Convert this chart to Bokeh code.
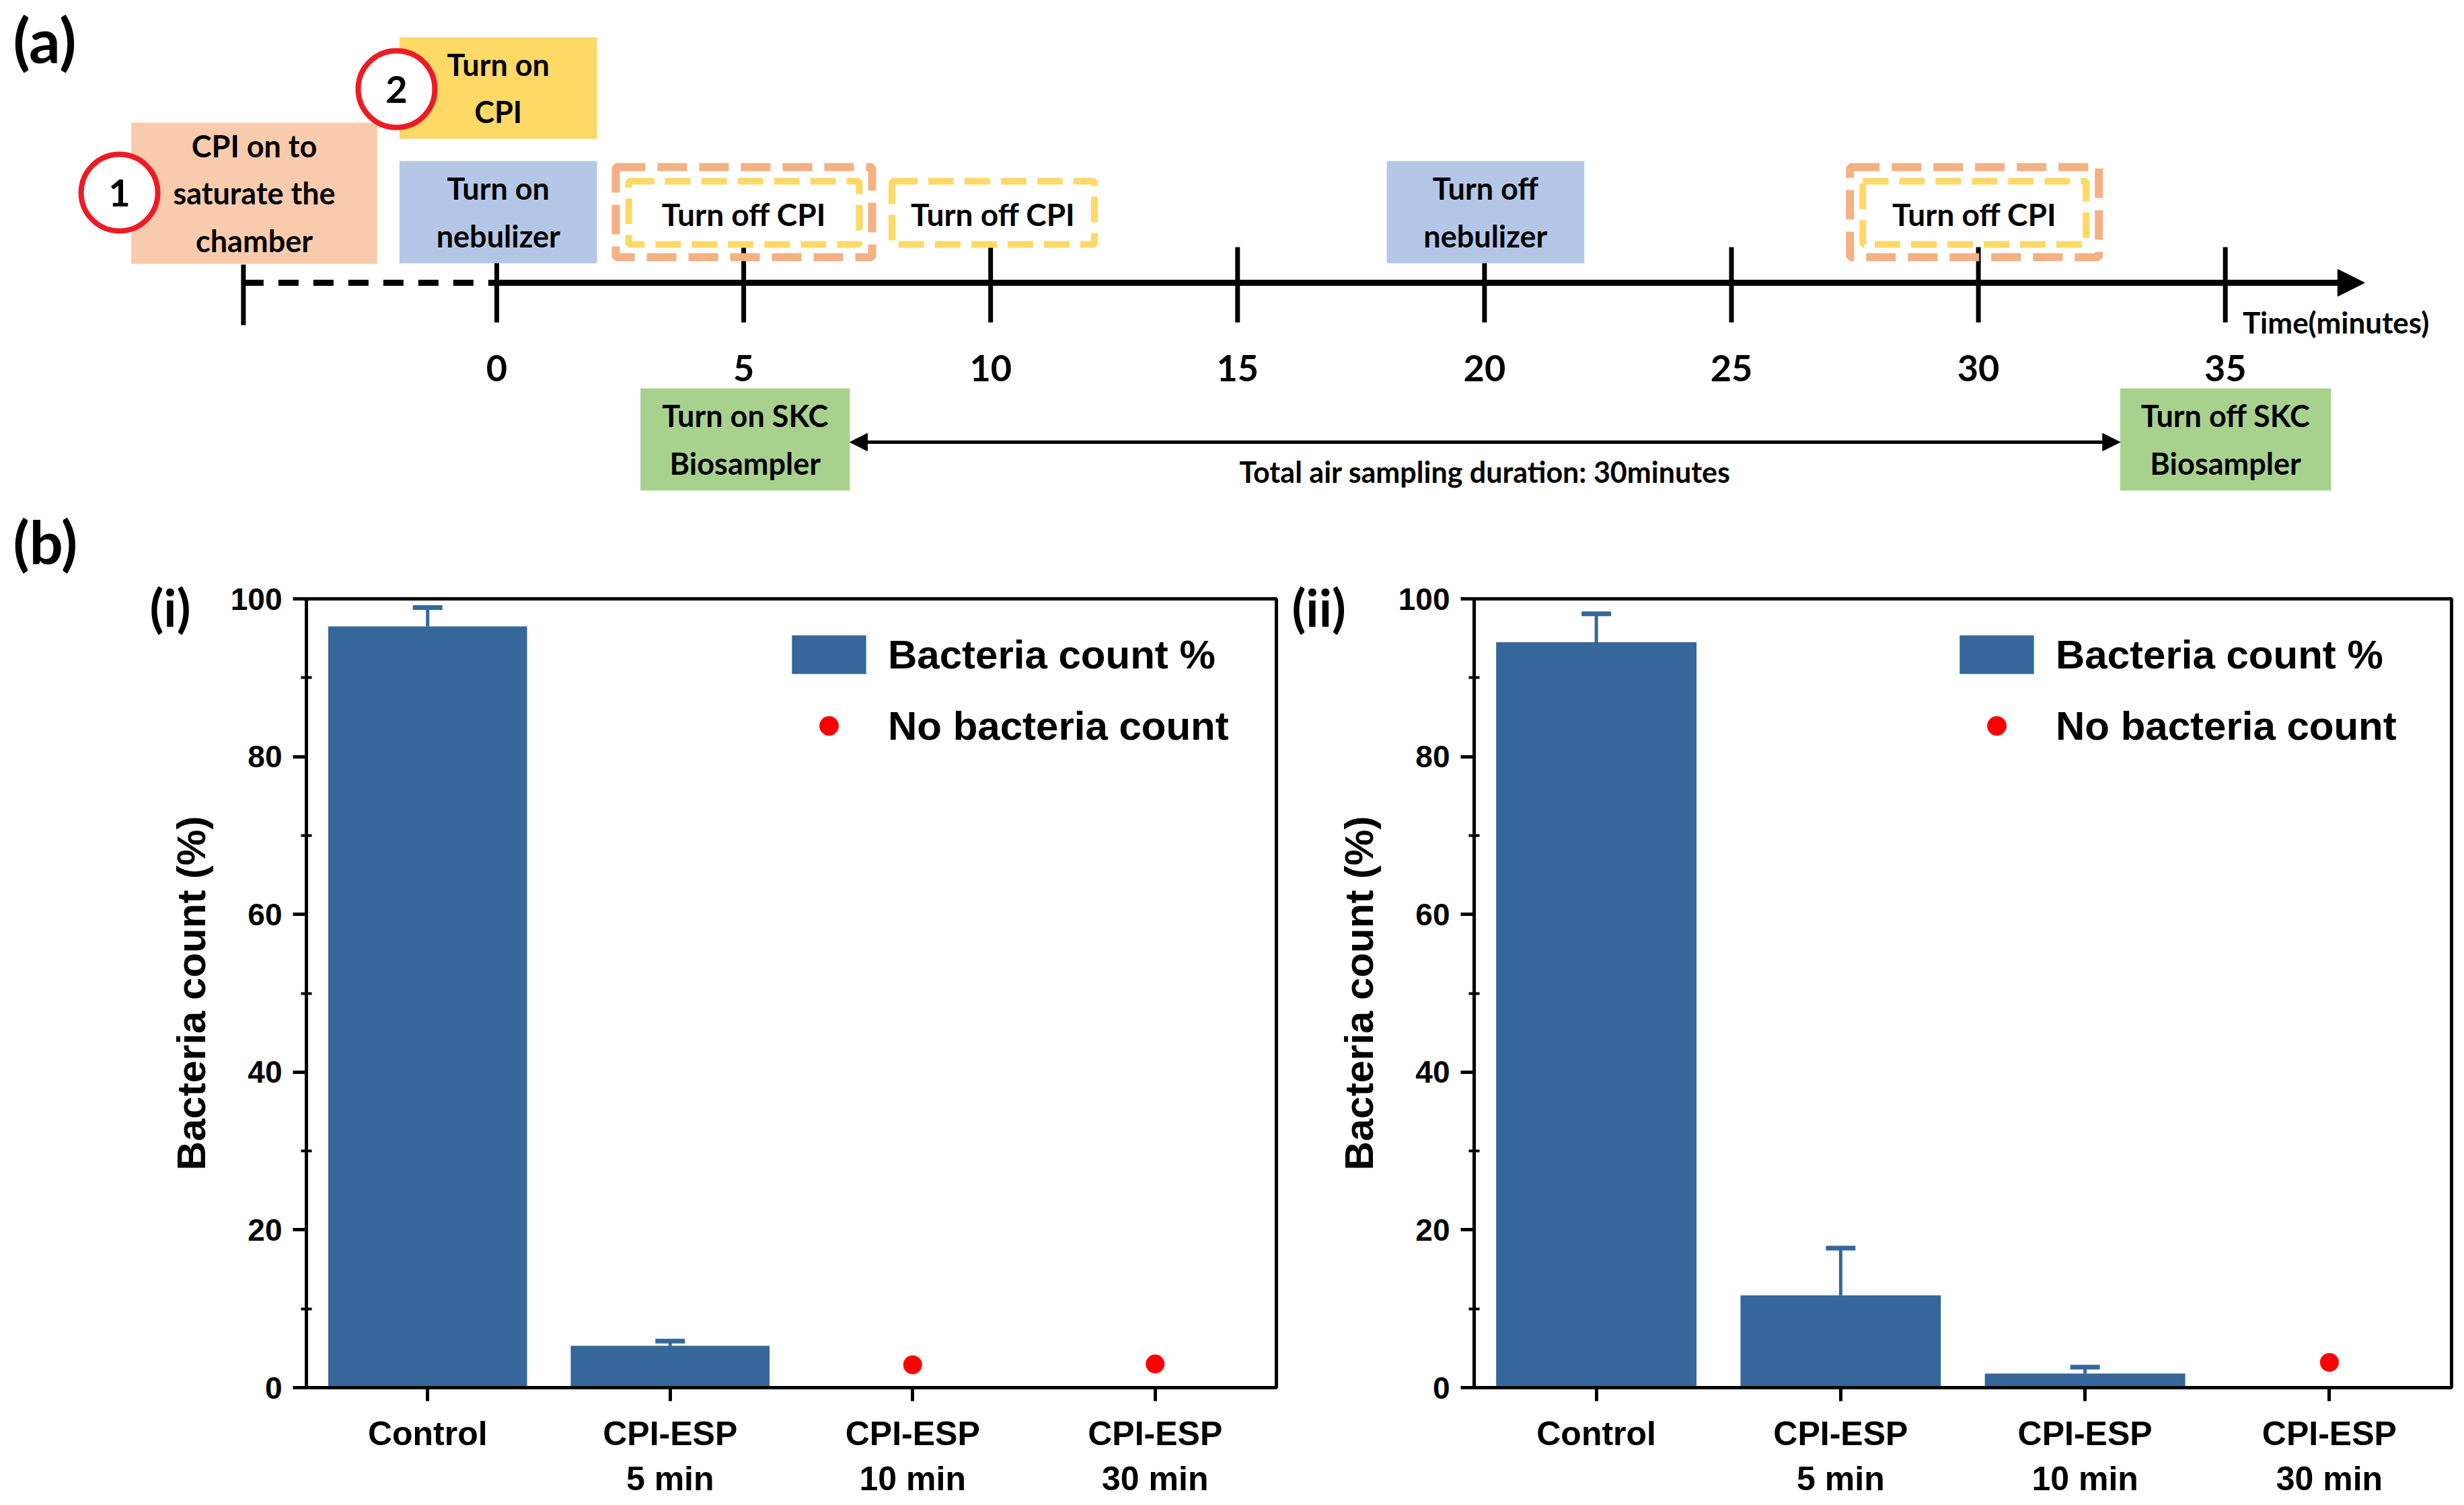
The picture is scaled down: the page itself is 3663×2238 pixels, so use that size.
from bokeh.plotting import figure
from bokeh.models import (Range1d, FactorRange, FixedTicker, Legend, LegendItem, Label,
                          Whisker, TeeHead, Arrow, NormalHead, ColumnDataSource)
from bokeh.layouts import column, row
from bokeh.embed import file_html
from bokeh.resources import INLINE
from bokeh.core.properties import value

# ---------------- data: panel (a) timeline (minutes) ----------------
tick_minutes = [0, 5, 10, 15, 20, 25, 30, 35]
tick_labels = ["0", "5", "10", "15", "20", "25", "30", "35"]
pre_start_minute = -5.13
axis_end_minute = 37.82
axis_title = "Time(minutes)"

event_labels = ["CPI on to\nsaturate the\nchamber", "Turn on\nCPI", "Turn on\nnebulizer",
                "Turn off\nnebulizer", "Turn on SKC\nBiosampler", "Turn off SKC\nBiosampler"]
event_start = [-7.40, -1.97, -1.97, 18.02, 2.91, 32.87]
event_end = [-2.42, 2.03, 2.03, 22.02, 7.15, 37.14]
event_kind = ["cpi_pre", "cpi_on", "nebulizer", "nebulizer", "sampler", "sampler"]

off_label = "Turn off CPI"
off_start = [2.41, 8.00, 27.40]
off_end = [7.60, 12.10, 32.44]
off_double = [True, False, True]

step_numbers = ["1", "2"]
step_minutes = [-7.64, -2.03]
step_kind = ["cpi_pre", "cpi_on"]

sampling_start = 7.15
sampling_end = 32.87
sampling_label = "Total air sampling duration: 30minutes"

# ---------------- data: panel (b) bar charts ----------------
categories = ["Control", "CPI-ESP\n5 min", "CPI-ESP\n10 min", "CPI-ESP\n30 min"]
y_ticks = [0, 20, 40, 60, 80, 100]
y_minor = [10, 30, 50, 70, 90]

i_bar_cats = ["Control", "CPI-ESP\n5 min"]
i_bar_vals = [96.5, 5.3]
i_bar_err = [2.4, 0.6]
i_dot_cats = ["CPI-ESP\n10 min", "CPI-ESP\n30 min"]
i_dot_vals = [2.9, 3.0]

ii_bar_cats = ["Control", "CPI-ESP\n5 min", "CPI-ESP\n10 min"]
ii_bar_vals = [94.5, 11.7, 1.8]
ii_bar_err = [3.6, 6.0, 0.8]
ii_dot_cats = ["CPI-ESP\n30 min"]
ii_dot_vals = [3.2]

# ---------------- layout / style ----------------
W = 3655
TOP_H = 858
BOT_H = 2230 - TOP_H
PX_PER_MIN = 73.42
X0 = 738  # canvas x of minute 0

kind_color = {"cpi_pre": "#f8cbad", "cpi_on": "#ffd966", "nebulizer": "#b4c7e7", "sampler": "#a9d18e"}
kind_rows = {"cpi_pre": (182, 392), "cpi_on": (55, 206), "nebulizer": (239, 391), "sampler": (577, 729)}
step_y = {"cpi_pre": 286, "cpi_on": 132}
AXIS_Y = 420
TICK_ROW = (367, 479)
PRE_TICK_ROW = (393, 483)
TICKLABEL_Y = 547
OUTER_ROW = (248, 382)
INNER_ROW = (269, 363)
INSET = 0.26
OFF_TEXT_Y = 318
SAMPLING_Y = 657
SAMPLING_TEXT_Y = 701
TITLE_Y = 478

TL_FONT = "Lato"
CH_FONT = "Liberation Sans"
bar_color = "#35679a"
dot_color = "#ff0000"
ring_color = "#ec1c24"

x_start = -X0 / PX_PER_MIN
top = figure(width=W, height=TOP_H, x_range=Range1d(x_start, x_start + W / PX_PER_MIN),
             y_range=Range1d(TOP_H, 0), x_axis_location=None, y_axis_location=None,
             output_backend="svg", toolbar_location=None, min_border=0)
top.grid.visible = False
top.outline_line_color = None

# ticks (behind boxes)
top.segment(x0=tick_minutes, x1=tick_minutes, y0=TICK_ROW[0], y1=TICK_ROW[1], line_width=7, line_color="black")
top.segment(x0=[pre_start_minute], x1=[pre_start_minute], y0=PRE_TICK_ROW[0], y1=PRE_TICK_ROW[1],
            line_width=7, line_color="black")
# filled event boxes
top.quad(left=event_start, right=event_end,
         top=[kind_rows[k][0] for k in event_kind], bottom=[kind_rows[k][1] for k in event_kind],
         fill_color=[kind_color[k] for k in event_kind], line_color=None)
top.text(x=[(a + b) / 2 for a, b in zip(event_start, event_end)],
         y=[(kind_rows[k][0] + kind_rows[k][1]) / 2 for k in event_kind], text=event_labels,
         text_font=value(TL_FONT), text_font_style="bold", text_font_size="45px", text_color="black",
         text_align="center", text_baseline="middle", text_line_height=1.3)
# dashed "turn off" boxes
dbl_s = [s for s, d in zip(off_start, off_double) if d]
dbl_e = [e for e, d in zip(off_end, off_double) if d]
top.quad(left=dbl_s, right=dbl_e, top=OUTER_ROW[0], bottom=OUTER_ROW[1], fill_color=None,
         line_color="#f4b183", line_width=12, line_dash="44 18")
top.quad(left=[s + (INSET if d else 0) for s, d in zip(off_start, off_double)],
         right=[e - (INSET if d else 0) for e, d in zip(off_end, off_double)],
         top=INNER_ROW[0], bottom=INNER_ROW[1], fill_color=None,
         line_color="#ffd966", line_width=10, line_dash="38 16")
top.text(x=[(a + b) / 2 for a, b in zip(off_start, off_end)], y=OFF_TEXT_Y, text=[off_label] * len(off_start),
         text_font=value(TL_FONT), text_font_style="bold", text_font_size="46px", text_color="black",
         text_align="center", text_baseline="middle")
# axis line
top.segment(x0=[pre_start_minute], x1=[0], y0=AXIS_Y, y1=AXIS_Y, line_width=9, line_color="black",
            line_dash="30 22")
top.add_layout(Arrow(x_start=0, x_end=axis_end_minute, y_start=AXIS_Y, y_end=AXIS_Y, line_width=9,
                     line_color="black",
                     end=NormalHead(size=40, fill_color="black", line_color="black", line_width=1)))
top.text(x=tick_minutes, y=TICKLABEL_Y, text=tick_labels, text_font=value(TL_FONT), text_font_style="bold",
         text_font_size="54px", text_color="black", text_align="center", text_baseline="middle")
top.text(x=[tick_minutes[-1] + 0.35], y=TITLE_Y, text=[axis_title], text_font=value(TL_FONT),
         text_font_style="bold", text_font_size="44px", text_color="black", text_align="left",
         text_baseline="middle")
# sampling arrow
top.add_layout(Arrow(x_start=sampling_start, x_end=sampling_end, y_start=SAMPLING_Y, y_end=SAMPLING_Y,
                     line_width=5, line_color="black",
                     start=NormalHead(size=26, fill_color="black", line_color="black", line_width=1),
                     end=NormalHead(size=26, fill_color="black", line_color="black", line_width=1)))
top.text(x=[(sampling_start + sampling_end) / 2], y=SAMPLING_TEXT_Y, text=[sampling_label],
         text_font=value(TL_FONT), text_font_style="bold", text_font_size="43px", text_color="black",
         text_align="center", text_baseline="middle")
# step circles
top.scatter(x=step_minutes, y=[step_y[k] for k in step_kind], size=114, fill_color="white",
            line_color=ring_color, line_width=8)
top.text(x=step_minutes, y=[step_y[k] for k in step_kind], text=step_numbers, text_font=value(TL_FONT),
         text_font_style="bold", text_font_size="56px", text_color="black", text_align="center",
         text_baseline="middle")
# panel tags (a) and (b)
top.add_layout(Label(x=19, y=TOP_H - 58, x_units="screen", y_units="screen", text="(a)",
                     text_font=TL_FONT, text_font_style="bold", text_font_size="92px",
                     text_color="black", text_baseline="middle", text_align="left"))
top.add_layout(Label(x=19, y=TOP_H - 804, x_units="screen", y_units="screen", text="(b)",
                     text_font=TL_FONT, text_font_style="bold", text_font_size="88px",
                     text_color="black", text_baseline="middle", text_align="left"))

FRAME_TOP_BORDER = 890 - TOP_H
FRAME_BOTTOM_BORDER = TOP_H + BOT_H - 2063


def bar_panel(width, b_left, b_right, bar_cats, bar_vals, bar_err, dot_cats, dot_vals, tag, tag_offset):
    p = figure(width=width, height=BOT_H, x_range=FactorRange(*categories, range_padding=0),
               y_range=Range1d(0, 100), output_backend="svg", toolbar_location=None,
               min_border_left=b_left, min_border_right=b_right, min_border_top=FRAME_TOP_BORDER,
               min_border_bottom=FRAME_BOTTOM_BORDER)
    p.title.text = tag
    p.title.align = "left"
    p.title.offset = tag_offset
    p.title.standoff = -115
    p.title.text_font = TL_FONT
    p.title.text_font_style = "bold"
    p.title.text_font_size = "76px"
    p.title.text_color = "black"
    p.grid.visible = False
    p.outline_line_color = "black"
    p.outline_line_width = 5
    p.outline_line_alpha = 1
    bars = p.vbar(x=bar_cats, top=bar_vals, width=0.82, fill_color=bar_color, line_color=None)
    src = ColumnDataSource(dict(x=bar_cats, lower=bar_vals,
                                upper=[v + e for v, e in zip(bar_vals, bar_err)]))
    p.add_layout(Whisker(source=src, base="x", lower="lower", upper="upper", dimension="height",
                         line_color=bar_color, line_width=5, lower_head=None,
                         upper_head=TeeHead(size=44, line_color=bar_color, line_width=7)))
    dots = p.scatter(x=dot_cats, y=dot_vals, size=28, fill_color=dot_color, line_color=None)
    legend = Legend(items=[LegendItem(label="Bacteria count %", renderers=[bars]),
                           LegendItem(label="No bacteria count", renderers=[dots])],
                    location=(708, 948), orientation="vertical", glyph_width=138, glyph_height=72,
                    spacing=34, padding=0, margin=0, label_standoff=19, label_text_font=CH_FONT,
                    label_text_font_size="60px", label_text_font_style="bold", label_text_color="black",
                    border_line_color=None, background_fill_alpha=0)
    p.add_layout(legend)
    p.yaxis.ticker = FixedTicker(ticks=y_ticks, minor_ticks=y_minor)
    p.yaxis.axis_label = "Bacteria count (%)"
    for ax in (p.xaxis[0], p.yaxis[0]):
        ax.axis_line_width = 5
        ax.axis_line_color = "black"
        ax.major_tick_line_width = 5
        ax.major_tick_line_color = "black"
        ax.major_tick_in = 0
        ax.major_tick_out = 20
        ax.major_label_text_font = CH_FONT
        ax.major_label_text_font_style = "bold"
        ax.major_label_text_color = "black"
    p.xaxis.major_label_text_font_size = "50px"
    p.xaxis.major_label_standoff = 20
    p.xaxis.minor_tick_line_color = None
    p.yaxis.major_label_text_font_size = "46px"
    p.yaxis.major_label_standoff = 16
    p.yaxis.minor_tick_in = 8
    p.yaxis.minor_tick_out = 8
    p.yaxis.minor_tick_line_width = 4
    p.yaxis.minor_tick_line_color = "black"
    p.yaxis.axis_label_text_font = CH_FONT
    p.yaxis.axis_label_text_font_size = "60px"
    p.yaxis.axis_label_text_font_style = "bold"
    p.yaxis.axis_label_text_color = "black"
    p.yaxis.axis_label_standoff = 22
    return p


W1 = 1900
p1 = bar_panel(W1, 455, W1 - 1897, i_bar_cats, i_bar_vals, i_bar_err, i_dot_cats, i_dot_vals, "(i)", -233)
p2 = bar_panel(W - W1, 2191 - W1, W - 3644, ii_bar_cats, ii_bar_vals, ii_bar_err, ii_dot_cats, ii_dot_vals,
               "(ii)", -271)

layout = column(top, row(p1, p2))
open("out.html", "w").write(file_html(layout, INLINE))
